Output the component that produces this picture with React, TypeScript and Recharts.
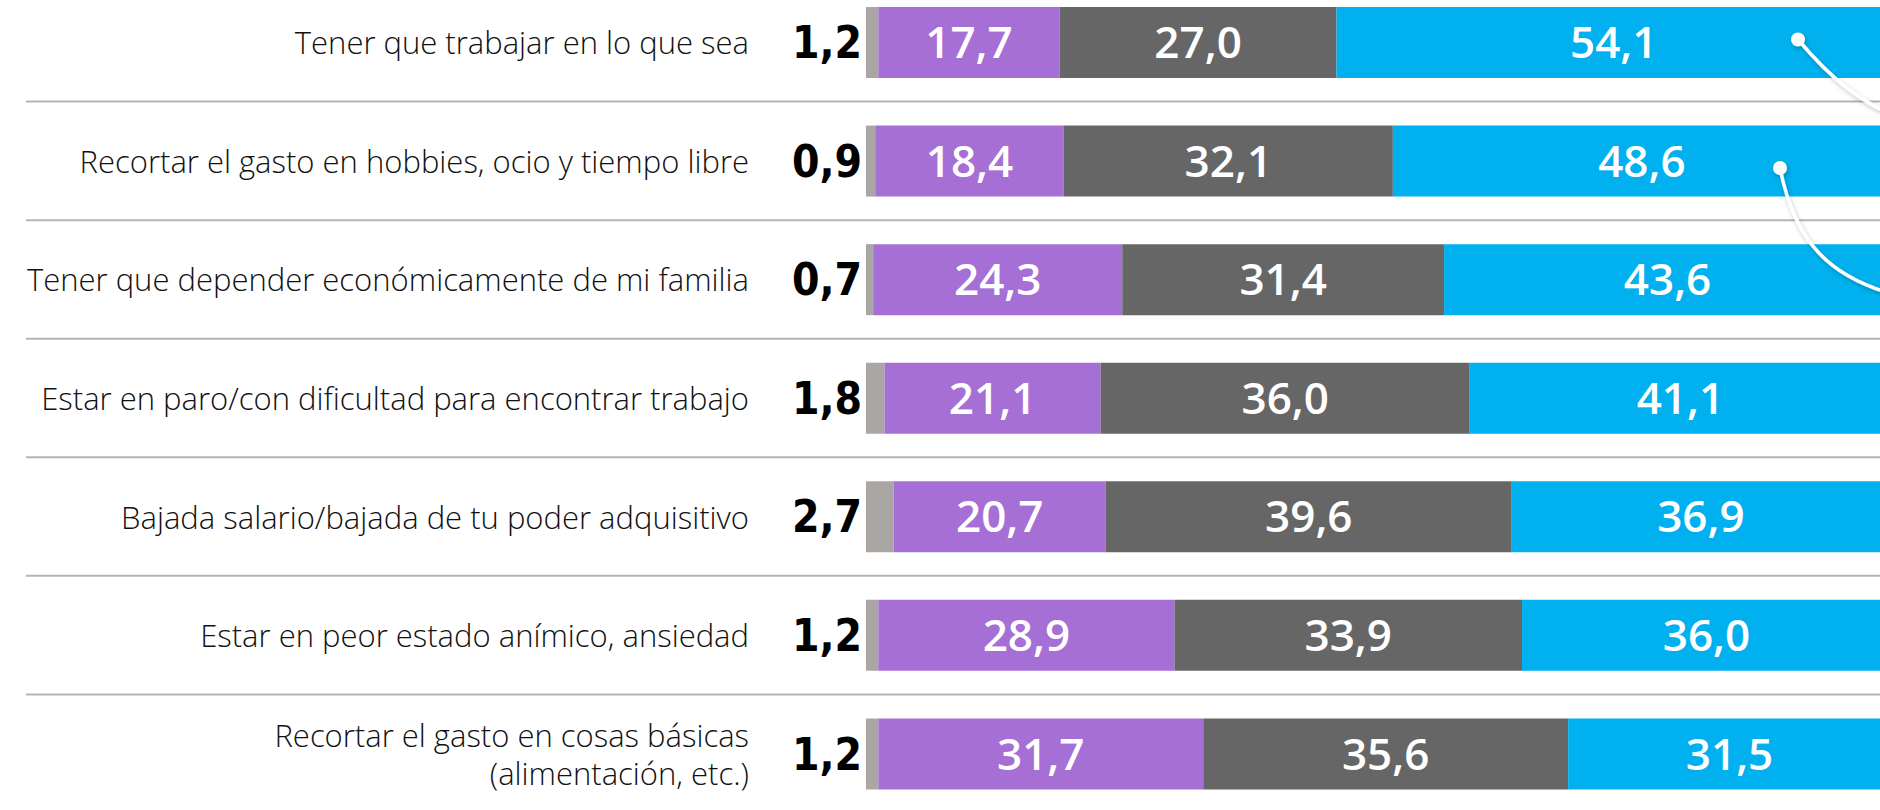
import { BarChart, Bar, XAxis, YAxis, LabelList } from "recharts";

const categories = [
  "Tener que trabajar en lo que sea",
  "Recortar el gasto en hobbies, ocio y tiempo libre",
  "Tener que depender económicamente de mi familia",
  "Estar en paro/con dificultad para encontrar trabajo",
  "Bajada salario/bajada de tu poder adquisitivo",
  "Estar en peor estado anímico, ansiedad",
  "Recortar el gasto en cosas básicas\n(alimentación, etc.)",
];
const nsnc = [1.2, 0.9, 0.7, 1.8, 2.7, 1.2, 1.2];
const poco = [17.7, 18.4, 24.3, 21.1, 20.7, 28.9, 31.7];
const bastante = [27.0, 32.1, 31.4, 36.0, 39.6, 33.9, 35.6];
const mucho = [54.1, 48.6, 43.6, 41.1, 36.9, 36.0, 31.5];

const data = categories.map((name, i) => ({
  name,
  nsnc: nsnc[i],
  poco: poco[i],
  bastante: bastante[i],
  mucho: mucho[i],
}));

const CHART_H = 830;
const PITCH = CHART_H / categories.length;
const fmt = (v: any) => Number(v).toFixed(1).replace(".", ",");

const CategoryTick = (props: any) => {
  const { x, y, payload, index } = props;
  const lines = String(payload.value).split("\n");
  const lh = 38;
  const y0 = y - ((lines.length - 1) * lh) / 2;
  return (
    <g>
      {index < categories.length - 1 && (
        <line x1={26} x2={1900} y1={y + PITCH / 2} y2={y + PITCH / 2} stroke="#b4b4b4" strokeWidth={2} />
      )}
      <text
        x={x}
        y={y0}
        textAnchor="end"
        dominantBaseline="central"
        fontSize={31}
        fontWeight={300}
        fontFamily="'Open Sans', sans-serif"
        fill="#111"
      >
        {lines.map((l, k) => (
          <tspan key={k} x={x} y={y0 + k * lh}>
            {l}
          </tspan>
        ))}
      </text>
    </g>
  );
};

// white callout curves that leave the picture on the right (first two rows)
const Callout = (props: any) => {
  const { x, y, width, height, index } = props;
  const end = x + width;
  const cy = y + height / 2;
  if (index === 0) {
    const dx = end - 93;
    const dy = cy - 3;
    return (
      <g filter="url(#sh)">
        <path d={`M${dx} ${dy} C${dx + 32} ${dy + 38} ${dx + 62} ${dy + 64} ${dx + 110} ${dy + 82}`} stroke="#fff" strokeWidth={3.5} fill="none" />
        <circle cx={dx} cy={dy} r={7} fill="#fff" />
      </g>
    );
  }
  if (index === 1) {
    const dx = end - 111;
    const dy = cy + 7;
    return (
      <g filter="url(#sh)">
        <path d={`M${dx} ${dy} C${dx + 15} ${dy + 75} ${dx + 50} ${dy + 110} ${dx + 120} ${dy + 128}`} stroke="#fff" strokeWidth={3.5} fill="none" />
        <circle cx={dx} cy={dy} r={7} fill="#fff" />
      </g>
    );
  }
  return null;
};

const innerLabel = {
  position: "center" as const,
  fill: "#ffffff",
  fontSize: 44,
  fontWeight: 600,
  fontFamily: "'Open Sans', sans-serif",
  formatter: fmt,
};

export default function App() {
  return (
    <div style={{ position: "absolute", left: 0, top: 0, width: 1880, height: 810, overflow: "hidden", background: "#fff" }}>
      <div style={{ position: "absolute", left: 0, top: -17 }}>
        <BarChart
          width={1891}
          height={CHART_H}
          data={data}
          layout="vertical"
          margin={{ top: 0, right: 0, bottom: 0, left: 0 }}
          barSize={71}
          style={{ overflow: "visible" }}
        >
          <defs>
            <filter id="sh" x="-50%" y="-50%" width="200%" height="200%">
              <feDropShadow dx="1" dy="2" stdDeviation="2" floodColor="#000" floodOpacity="0.25" />
            </filter>
          </defs>
          <XAxis type="number" domain={[0, 100]} hide />
          <YAxis
            type="category"
            dataKey="name"
            width={866}
            axisLine={false}
            tickLine={false}
            tickSize={0}
            tickMargin={117}
            tick={<CategoryTick />}
            interval={0}
          />
          <Bar dataKey="nsnc" stackId="s" fill="#aaa6a4" isAnimationActive={false}>
            <LabelList
              dataKey="nsnc"
              position="left"
              offset={4}
              fill="#000"
              fontSize={44}
              fontWeight={700}
              fontFamily="'Liberation Sans Narrow', 'DejaVu Sans Condensed', sans-serif"
              formatter={fmt}
            />
          </Bar>
          <Bar dataKey="poco" stackId="s" fill="#a66fd5" isAnimationActive={false}>
            <LabelList dataKey="poco" {...innerLabel} />
          </Bar>
          <Bar dataKey="bastante" stackId="s" fill="#666666" isAnimationActive={false}>
            <LabelList dataKey="bastante" {...innerLabel} />
          </Bar>
          <Bar dataKey="mucho" stackId="s" fill="#00b0ef" isAnimationActive={false}>
            <LabelList dataKey="mucho" {...innerLabel} />
            <LabelList dataKey="mucho" content={<Callout />} />
          </Bar>
        </BarChart>
      </div>
    </div>
  );
}
